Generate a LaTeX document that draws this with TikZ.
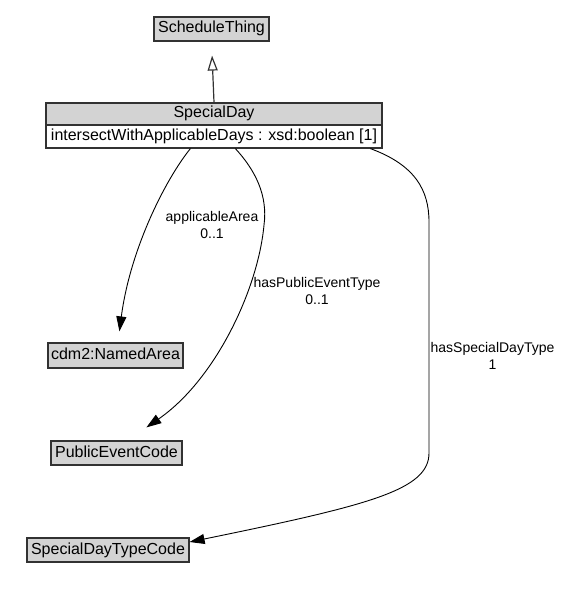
\documentclass[tikz,border=0pt]{standalone}
\usepackage{fontspec}
\setmainfont{Liberation Sans}
\usetikzlibrary{arrows.meta,calc}
\definecolor{boxfill}{RGB}{211,211,211}
\definecolor{boxline}{RGB}{50,50,50}
\tikzset{
  cls/.style={draw=boxline, line width=1.2pt, fill=boxfill, inner sep=0pt,
    font=\fontsize{16}{19}\selectfont, text height=11.5pt, text depth=3.5pt},
  attr/.style={cls, fill=white},
  assoc/.style={draw=black, line width=0.9pt, -{Triangle[length=15pt,width=10pt]}},
  gen/.style={draw=boxline, line width=1.2pt, -{Triangle[open,length=15pt,width=10pt]}},
  elabel/.style={font=\fontsize{14}{17}\selectfont, align=center, inner sep=0pt}
}
\begin{document}
\begin{tikzpicture}[x=1pt,y=-1pt]
\useasboundingbox (0,0) rectangle (562,601);
% nodes
\node[cls, minimum width=115pt, minimum height=24pt] (st) at (211.5,29) {ScheduleThing};
\node[cls, minimum width=336pt, minimum height=22pt] (sd) at (214,114) {SpecialDay};
\node[attr, minimum width=336pt, minimum height=23pt] (sda) at (214,136.5) {intersectWithApplicableDays : xsd:boolean [1]};
\node[cls, minimum width=135pt, minimum height=25pt] (na) at (115.5,355.5) {cdm2:NamedArea};
\node[cls, minimum width=131pt, minimum height=24pt] (pe) at (116.5,453) {PublicEventCode};
\node[cls, minimum width=162pt, minimum height=24pt] (sdt) at (108,550) {SpecialDayTypeCode};
% connector end points
\coordinate (s1) at ($(sda.south west)+(145,0)$);
\coordinate (s2) at ($(sda.south west)+(190,0)$);
\coordinate (s3) at ($(sda.south west)+(325,0)$);
\coordinate (e1) at ($(na.north west)+(72,-11)$);
\coordinate (e2) at ($(pe.north west)+(96,-13)$);
\coordinate (e3) at ($(sdt.east)+(0,-8)$);
% generalization
\draw[gen, shorten >=14pt] (sd.north) -- (st.south);
% associations
\draw[assoc] (s1) .. controls (165,180) and (130,250) .. (e1);
\draw[assoc] (s2) .. controls (255,170) and (268,195) .. (264,225)
  .. controls (258,290) and (215,380) .. (e2);
\draw[assoc] (s3) .. controls (415,165) and (429,190) .. (429,222)
  -- (429,453) .. controls (429,490) and (370,505) .. (e3);
% labels
\node[elabel] (l1) at (212,224.5) {applicableArea\\0..1};
\node[elabel] (l2) at (317,290.5) {hasPublicEventType\\0..1};
\node[elabel] (l3) at (492.5,356) {hasSpecialDayType\\1};
\end{tikzpicture}
\end{document}
